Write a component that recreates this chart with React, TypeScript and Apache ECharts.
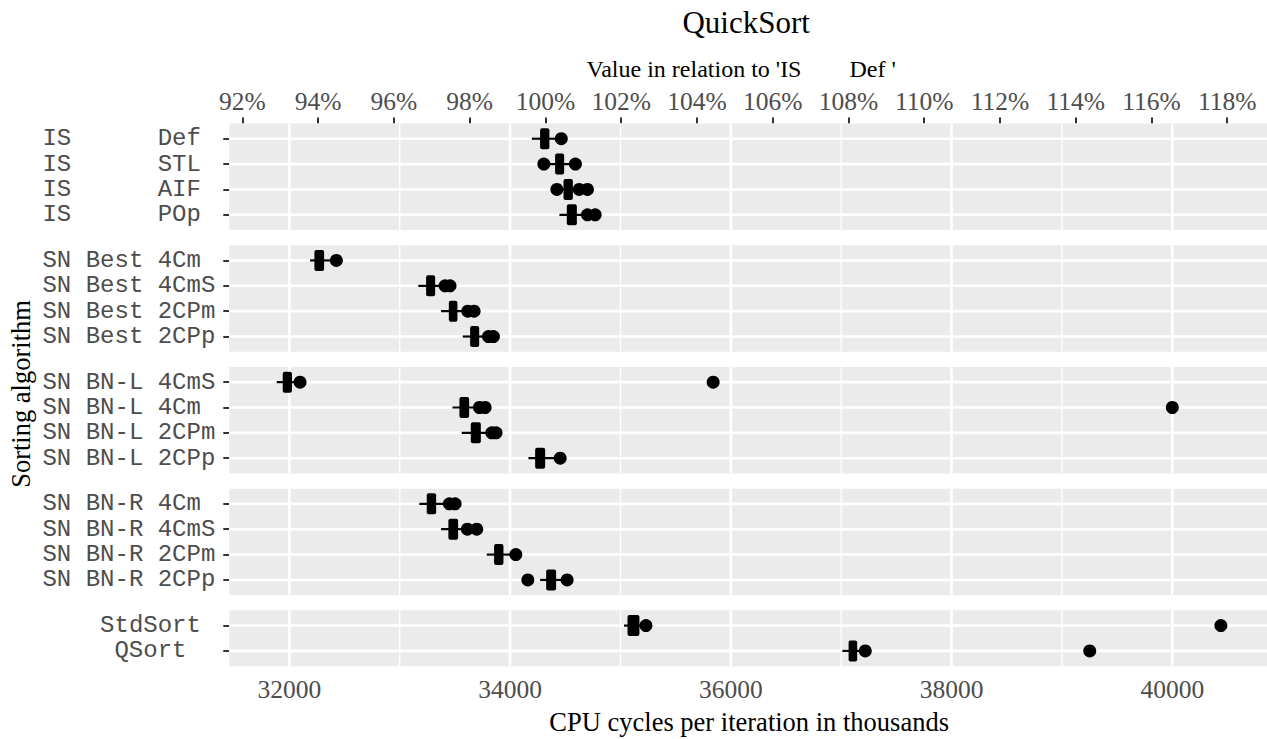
import React, { useEffect, useRef } from "react";
import * as echarts from "echarts";

// ---------- data ----------
const X_MIN = 31456;
const X_MAX = 40858;
const REF_VALUE = 34320; // median of 'IS Def'

const X_TICKS = [32000, 34000, 36000, 38000, 40000];
const X_MINOR = [33000, 35000, 37000, 39000];
const PCT_TICKS = [92, 94, 96, 98, 100, 102, 104, 106, 108, 110, 112, 114, 116, 118];

const NB = "\u00A0";
const pad = (s: string) => s.replace(/ /g, NB);

// panel 1
const P1_NAMES = ["IS      Def ", "IS      STL ", "IS      AIF ", "IS      POp "];
// [low whisker, q1, median, q3, high whisker]
const P1_BOX = [
  [34197, 34272, 34320, 34356, 34464],
  [34306, 34408, 34447, 34490, 34592],
  [34424, 34484, 34520, 34569, 34701],
  [34447, 34514, 34562, 34605, 34771],
];
// [value, row]
const P1_DOTS = [
  [34464, 0],
  [34306, 1], [34592, 1],
  [34424, 2], [34626, 2], [34701, 2],
  [34701, 3], [34771, 3],
];

// panel 2
const P2_NAMES = ["SN Best 4Cm ", "SN Best 4CmS", "SN Best 2CPm", "SN Best 2CPp"];
const P2_BOX = [
  [32188, 32227, 32272, 32315, 32426],
  [33169, 33239, 33282, 33321, 33456],
  [33375, 33445, 33481, 33523, 33674],
  [33571, 33638, 33677, 33720, 33849],
];
const P2_DOTS = [
  [32426, 0],
  [33411, 1], [33456, 1],
  [33617, 2], [33674, 2],
  [33804, 3], [33849, 3],
];

// panel 3
const P3_NAMES = ["SN BN-L 4CmS", "SN BN-L 4Cm ", "SN BN-L 2CPm", "SN BN-L 2CPp"];
const P3_BOX = [
  [31886, 31940, 31982, 32024, 32097],
  [33478, 33541, 33583, 33629, 33774],
  [33562, 33644, 33692, 33735, 33873],
  [34166, 34227, 34272, 34318, 34454],
];
const P3_DOTS = [
  [32097, 0], [35840, 0],
  [33722, 1], [33774, 1], [40000, 1],
  [33834, 2], [33873, 2],
  [34454, 3],
];

// panel 4
const P4_NAMES = ["SN BN-R 4Cm ", "SN BN-R 4CmS", "SN BN-R 2CPm", "SN BN-R 2CPp"];
const P4_BOX = [
  [33178, 33245, 33287, 33330, 33502],
  [33375, 33441, 33484, 33529, 33698],
  [33789, 33855, 33898, 33940, 34052],
  [34272, 34327, 34372, 34417, 34517],
];
const P4_DOTS = [
  [33450, 0], [33502, 0],
  [33613, 1], [33698, 1],
  [34052, 2],
  [34161, 3], [34517, 3],
];

// panel 5
const P5_NAMES = ["StdSort ", "QSort  "];
const P5_BOX = [
  [35032, 35064, 35112, 35172, 35231],
  [37011, 37067, 37106, 37145, 37218],
];
const P5_DOTS = [
  [35231, 0], [40440, 0],
  [37218, 1], [39252, 1],
];

const PANELS = [
  { names: P1_NAMES, box: P1_BOX, dots: P1_DOTS },
  { names: P2_NAMES, box: P2_BOX, dots: P2_DOTS },
  { names: P3_NAMES, box: P3_BOX, dots: P3_DOTS },
  { names: P4_NAMES, box: P4_BOX, dots: P4_DOTS },
  { names: P5_NAMES, box: P5_BOX, dots: P5_DOTS },
];

// ---------- layout ----------
const W = 1267;
const H = 739;
const GRID_LEFT = 229.3;
const GRID_WIDTH = W - GRID_LEFT;
const ROW_H = 25.36;
const EXPAND = 0.6;
const GAP = 15.2;
const FIRST_TOP = 123.5;

const SERIF = "'Liberation Serif', 'Times New Roman', serif";
const MONO = "'Liberation Mono', 'Courier New', monospace";
const TICK_COLOR = "#333333";
const LABEL_COLOR = "#4D4D4D";
const PANEL_BG = "#EBEBEB";

function buildOption() {
  const grids: any[] = [];
  const xAxes: any[] = [];
  const yAxes: any[] = [];
  const series: any[] = [];
  let top = FIRST_TOP;

  PANELS.forEach((p, i) => {
    const n = p.names.length;
    const yMin = -EXPAND;
    const yMax = n - 1 + EXPAND;
    const height = (yMax - yMin) * ROW_H;
    grids.push({
      left: GRID_LEFT,
      top,
      width: GRID_WIDTH,
      height,
      show: false,
      containLabel: false,
    });
    top += height + GAP;

    const isLast = i === PANELS.length - 1;
    xAxes.push({
      type: "value",
      gridIndex: i,
      min: X_MIN,
      max: X_MAX,
      show: isLast,
      position: "bottom",
      axisLine: { show: false },
      splitLine: { show: false },
      axisTick: {
        show: true,
        customValues: X_TICKS,
        length: 6,
        lineStyle: { color: TICK_COLOR, width: 2 },
      },
      axisLabel: {
        show: true,
        customValues: X_TICKS,
        formatter: (v: number) => String(Math.round(v)),
        fontFamily: SERIF,
        fontSize: 25.5,
        color: LABEL_COLOR,
        margin: 10,
      },
    });

    const names = p.names.map(pad);
    const idx = names.map((_, k) => k);
    yAxes.push({
      type: "value",
      gridIndex: i,
      inverse: true,
      min: yMin,
      max: yMax,
      axisLine: { show: false },
      splitLine: { show: false },
      axisTick: {
        show: true,
        customValues: idx,
        length: 6,
        lineStyle: { color: TICK_COLOR, width: 2 },
      },
      axisLabel: {
        show: true,
        customValues: idx,
        formatter: (v: number) => names[Math.round(v)] ?? "",
        fontFamily: MONO,
        fontSize: 24,
        color: LABEL_COLOR,
        margin: 14,
      },
    });

    // panel background + grid lines (from the tick arrays, through the axes)
    series.push({
      type: "custom",
      xAxisIndex: i,
      yAxisIndex: i,
      silent: true,
      clip: false,
      z: 1,
      data: [[X_MIN, yMin]],
      encode: { x: 0, y: 1 },
      renderItem: (params: any, api: any) => {
        const tl = api.coord([X_MIN, yMin]);
        const br = api.coord([X_MAX, yMax]);
        const children: any[] = [
          {
            type: "rect",
            shape: { x: tl[0], y: tl[1], width: br[0] - tl[0], height: br[1] - tl[1] },
            style: { fill: PANEL_BG },
          },
        ];
        X_MINOR.forEach((v) => {
          const x = api.coord([v, yMin])[0];
          children.push({
            type: "line",
            shape: { x1: x, y1: tl[1], x2: x, y2: br[1] },
            style: { stroke: "#FFFFFF", lineWidth: 1.3 },
          });
        });
        X_TICKS.forEach((v) => {
          const x = api.coord([v, yMin])[0];
          children.push({
            type: "line",
            shape: { x1: x, y1: tl[1], x2: x, y2: br[1] },
            style: { stroke: "#FFFFFF", lineWidth: 2.6 },
          });
        });
        idx.forEach((r) => {
          const y = api.coord([X_MIN, r])[1];
          children.push({
            type: "line",
            shape: { x1: tl[0], y1: y, x2: br[0], y2: y },
            style: { stroke: "#FFFFFF", lineWidth: 2.6 },
          });
        });
        return { type: "group", children };
      },
    });

    series.push({
      type: "custom",
      xAxisIndex: i,
      yAxisIndex: i,
      silent: true,
      clip: false,
      z: 3,
      data: p.box.map((b, r) => [...b, r]),
      encode: { x: [0, 1, 2, 3, 4], y: 5 },
      renderItem: (params: any, api: any) => {
        const row = api.value(5);
        const lo = api.coord([api.value(0), row]);
        const q1 = api.coord([api.value(1), row]);
        const q3 = api.coord([api.value(3), row]);
        const hi = api.coord([api.value(4), row]);
        const y = lo[1];
        const bh = 21;
        return {
          type: "group",
          children: [
            {
              type: "line",
              shape: { x1: lo[0], y1: y, x2: hi[0], y2: y },
              style: { stroke: "#000000", lineWidth: 2.2 },
            },
            {
              type: "rect",
              shape: { x: q1[0], y: y - bh / 2, width: q3[0] - q1[0], height: bh, r: 2 },
              style: { fill: "#000000" },
            },
          ],
        };
      },
    });
    series.push({
      type: "scatter",
      xAxisIndex: i,
      yAxisIndex: i,
      silent: true,
      z: 4,
      symbol: "circle",
      symbolSize: 13,
      itemStyle: { color: "#000000", opacity: 1 },
      data: p.dots,
    });
  });

  // secondary (percent) axis on top of first panel
  xAxes.push({
    type: "value",
    gridIndex: 0,
    position: "top",
    min: (X_MIN / REF_VALUE) * 100,
    max: (X_MAX / REF_VALUE) * 100,
    axisLine: { show: false },
    splitLine: { show: false },
    axisTick: {
      show: true,
      customValues: PCT_TICKS,
      length: 6,
      lineStyle: { color: TICK_COLOR, width: 2 },
    },
    axisLabel: {
      show: true,
      customValues: PCT_TICKS,
      formatter: (v: number) => `${Math.round(v)}%`,
      fontFamily: SERIF,
      fontSize: 25.5,
      color: LABEL_COLOR,
      margin: 9,
    },
  });

  const centerX = GRID_LEFT + (GRID_WIDTH + 2) / 2;

  return {
    animation: false,
    backgroundColor: "#FFFFFF",
    grid: grids,
    xAxis: xAxes,
    yAxis: yAxes,
    series,
    graphic: {
      elements: [
        {
          type: "text",
          x: centerX - 3,
          y: 22,
          style: {
            text: "QuickSort",
            fontFamily: SERIF,
            fontSize: 31,
            fill: "#000000",
            align: "center",
            verticalAlign: "middle",
          },
        },
        {
          type: "text",
          x: centerX - 8,
          y: 69,
          style: {
            text: pad("Value in relation to 'IS        Def '"),
            fontFamily: SERIF,
            fontSize: 24,
            fill: "#000000",
            align: "center",
            verticalAlign: "middle",
          },
        },
        {
          type: "text",
          x: centerX,
          y: 722,
          style: {
            text: "CPU cycles per iteration in thousands",
            fontFamily: SERIF,
            fontSize: 26.5,
            fill: "#000000",
            align: "center",
            verticalAlign: "middle",
          },
        },
        {
          type: "text",
          x: 21,
          y: 394,
          rotation: Math.PI / 2,
          style: {
            text: "Sorting algorithm",
            fontFamily: SERIF,
            fontSize: 26.5,
            fill: "#000000",
            align: "center",
            verticalAlign: "middle",
          },
        },
      ],
    },
  };
}

export default function App() {
  const ref = useRef<HTMLDivElement>(null);
  useEffect(() => {
    document.body.style.margin = "0";
    if (!ref.current) return;
    const chart = echarts.init(ref.current, undefined, { renderer: "svg" });
    chart.setOption(buildOption() as any);
    return () => chart.dispose();
  }, []);
  return <div ref={ref} style={{ width: W, height: H }} />;
}
